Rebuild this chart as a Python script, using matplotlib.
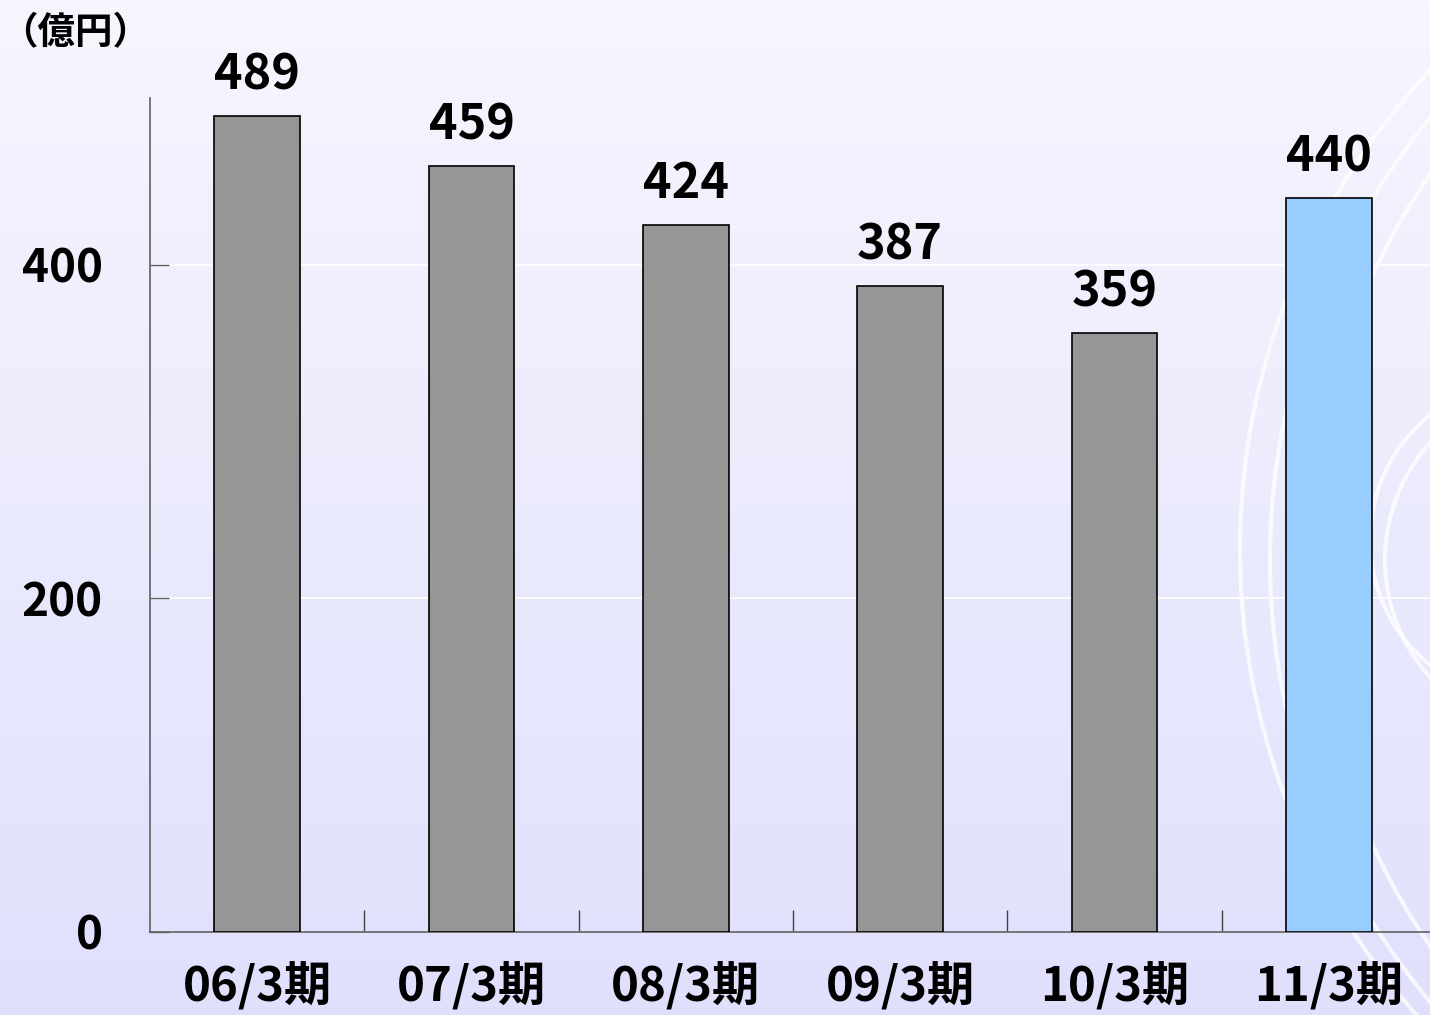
import numpy as np
import matplotlib
matplotlib.use("Agg")
import matplotlib.pyplot as plt
from matplotlib.patches import Arc

plt.rcParams['font.family'] = ['Noto Sans CJK JP', 'DejaVu Sans']

periods = ["06/3期", "07/3期", "08/3期", "09/3期", "10/3期", "11/3期"]
values = [489, 459, 424, 387, 359, 440]
bar_colors = ["#969696"] * 5 + ["#99CCFF"]
unit_label = "（億円）"
yticks = [0, 200, 400]

fig = plt.figure(figsize=(14.3, 10.15), dpi=100)

# background gradient + decorative arcs (pixel coords)
bg = fig.add_axes([0, 0, 1, 1], zorder=-10)
grad = np.linspace(0, 1, 256).reshape(-1, 1)
top = np.array([0.965, 0.965, 0.997])
bot = np.array([0.878, 0.878, 0.992])
img = top + (bot - top) * grad[..., None]
bg.imshow(img, extent=[0, 1430, 1015, 0], aspect="auto")
for cx, cy, r in [(1941, 550, 701), (1960, 560, 690), (1990, 560, 680),
                  (1530, 540, 160), (1560, 560, 175)]:
    bg.add_patch(Arc((cx, cy), 2 * r, 2 * r, color="white", lw=3, alpha=0.75))
bg.set_xlim(0, 1430)
bg.set_ylim(1015, 0)
bg.axis("off")

ax = fig.add_axes([150 / 1430, 83 / 1015, 1286 / 1430, 834 / 1015])
ax.patch.set_alpha(0)
x = np.arange(len(periods))
ax.bar(x, values, width=0.40, color=bar_colors, edgecolor="black", linewidth=1.2, zorder=3)
for xi, v in zip(x, values):
    ax.text(xi, v + 10, str(v), ha="center", va="bottom", fontsize=35, fontweight="bold")

ax.set_xlim(-0.5, len(periods) - 0.5)
ax.set_ylim(0, 500)
ax.set_yticks(yticks)
ax.set_yticklabels([str(t) for t in yticks], fontsize=33, fontweight="bold")
ax.yaxis.grid(True, color="white", lw=1.2, zorder=0)
ax.tick_params(axis="y", direction="in", length=14, width=1, color="#606060", pad=34)

ax.set_xticks(np.arange(len(periods) - 1) + 0.5)
ax.set_xticklabels([])
ax.set_xticks(x, minor=True)
ax.set_xticklabels(periods, minor=True, fontsize=34, fontweight="bold")
ax.tick_params(axis="x", which="major", direction="in", length=16, width=1, color="#404040")
ax.tick_params(axis="x", which="minor", length=0, pad=22)

for s in ["top", "right"]:
    ax.spines[s].set_visible(False)
ax.spines["left"].set_color("#606060")
ax.spines["bottom"].set_color("#606060")
ax.spines["left"].set_linewidth(1.2)
ax.spines["bottom"].set_linewidth(1.2)

fig.text(0, 1 - 33 / 1015, unit_label, fontsize=27, fontweight="bold", va="center", ha="left")

fig.savefig("out.png", dpi=100)
